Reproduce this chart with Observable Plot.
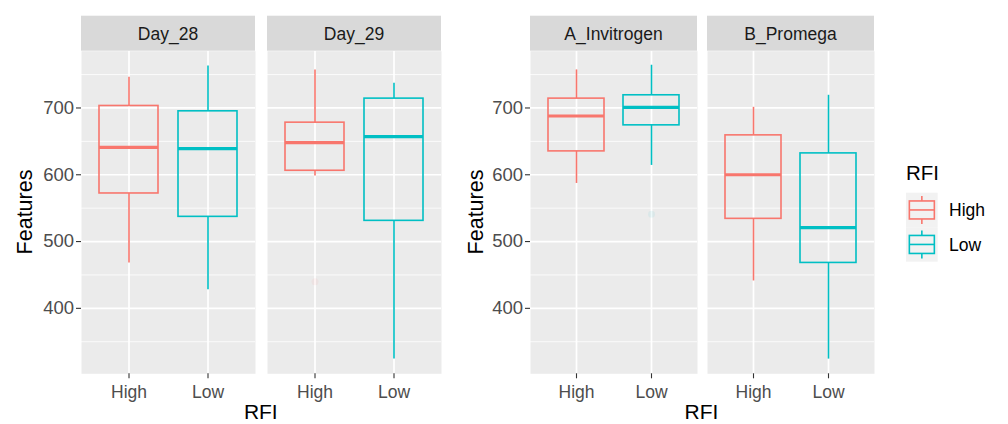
<!DOCTYPE html>
<html><head><meta charset="utf-8">
<script src="https://cdn.jsdelivr.net/npm/d3@7"></script>
<script src="https://cdn.jsdelivr.net/npm/@observablehq/plot@0.6"></script>
<style>
body{margin:0;background:#fff;}
#chart{position:relative;width:1008px;height:424px;overflow:hidden;font-family:"Liberation Sans",Arial,sans-serif;}
#chart svg{position:absolute;top:0;}
</style></head><body><div id="chart"></div>
<script>
// ---- data ----
const rfiLevels = ["High", "Low"];
const rfiColors = ["#F8766D", "#00BFC4"];
const yTicks = [400, 500, 600, 700];
const yMinorTicks = [350, 450, 550, 650, 750];

const dayFacets = ["Day_28", "Day_29"];
const dayGroup = ["Day_28", "Day_28", "Day_29", "Day_29"];
const dayRFI = ["High", "Low", "High", "Low"];
const dayLower = [468, 428, 598, 324];
const dayQ1 = [572, 537, 606, 531];
const dayMedian = [641, 639, 648, 657];
const dayQ3 = [703, 695, 678, 714];
const dayUpper = [746, 763, 757, 737];
const dayOutGroup = ["Day_29"];
const dayOutRFI = ["High"];
const dayOutValue = [440];

const kitFacets = ["A_Invitrogen", "B_Promega"];
const kitGroup = ["A_Invitrogen", "A_Invitrogen", "B_Promega", "B_Promega"];
const kitRFI = ["High", "Low", "High", "Low"];
const kitLower = [587, 614, 441, 324];
const kitQ1 = [635, 674, 534, 468];
const kitMedian = [688, 701, 600, 521];
const kitQ3 = [714, 719, 659, 632];
const kitUpper = [757, 764, 701, 719];
const kitOutGroup = ["A_Invitrogen"];
const kitOutRFI = ["Low"];
const kitOutValue = [541];

// ---- layout ----
const FONT = '"Liberation Sans", Arial, sans-serif';
const H = 424, MT = 50.7, MB = 50.7, STRIP_TOP = 15.7;
const yDomain = [302, 785];

const chart = document.getElementById("chart");

function panel({facets, group, rfi, lower, q1, median, q3, upper, outG, outR, outV, left, width, marginLeft, marginRight, fxPad}) {
  const rows = group.map((g, i) => ({group: g, rfi: rfi[i], lower: lower[i], q1: q1[i], median: median[i], q3: q3[i], upper: upper[i]}));
  const outs = outG.map((g, i) => ({group: g, rfi: outR[i], value: outV[i]}));
  const plot = Plot.plot({
    width, height: H, marginLeft, marginRight, marginTop: MT, marginBottom: MB,
    style: {fontFamily: FONT, fontSize: "18px", background: "transparent", overflow: "visible"},
    fx: {domain: facets, paddingInner: fxPad, paddingOuter: 0, axis: null, label: null},
    x: {type: "band", domain: rfiLevels, paddingInner: 0.25, paddingOuter: 0.225, label: null, axis: null},
    y: {domain: yDomain, label: null, axis: null},
    color: {domain: rfiLevels, range: rfiColors},
    marks: [
      Plot.frame({fill: "#EBEBEB", stroke: null}),
      Plot.gridY(yMinorTicks, {stroke: "white", strokeOpacity: 1, strokeWidth: 0.8}),
      Plot.gridY(yTicks, {stroke: "white", strokeOpacity: 1, strokeWidth: 1.7}),
      Plot.gridX(rfiLevels, {stroke: "white", strokeOpacity: 1, strokeWidth: 1.7}),
      Plot.ruleX(rows, {fx: "group", x: "rfi", y1: "lower", y2: "q1", stroke: "rfi", strokeWidth: 1.6}),
      Plot.ruleX(rows, {fx: "group", x: "rfi", y1: "q3", y2: "upper", stroke: "rfi", strokeWidth: 1.6}),
      Plot.barY(rows, {fx: "group", x: "rfi", y1: "q1", y2: "q3", stroke: "rfi", fill: "none", strokeWidth: 1.6}),
      Plot.tickY(rows, {fx: "group", x: "rfi", y: "median", stroke: "rfi", strokeWidth: 3.2}),
      Plot.dot(outs, {fx: "group", x: "rfi", y: "value", fill: "rfi", r: 3.5, fillOpacity: 0.07, stroke: null}),
      Plot.axisY(yTicks, {tickSize: 5, tickPadding: 2.5, stroke: "#333333", fill: "#4D4D4D", strokeWidth: 1.1, fontSize: 18.5, label: null}),
      Plot.axisX({tickSize: 5, tickPadding: 7, stroke: "#333333", fill: "#4D4D4D", strokeWidth: 1.1, fontSize: 17.5, label: null})
    ]
  });
  plot.style.left = left + "px";
  chart.appendChild(plot);
  // facet strips, placed with the library's fx scale
  const fx = plot.scale("fx");
  const sel = d3.select(plot);
  const g = sel.append("g");
  for (const f of facets) {
    const x0 = fx.apply(f);
    g.append("rect").attr("x", x0).attr("y", STRIP_TOP).attr("width", fx.bandwidth).attr("height", MT - STRIP_TOP).attr("fill", "#D9D9D9");
    g.append("text").attr("x", x0 + fx.bandwidth / 2).attr("y", 39.8).attr("text-anchor", "middle")
      .attr("font-family", FONT).attr("font-size", 17.5).attr("fill", "#1A1A1A").text(f);
  }
  return plot;
}

const leftPlot = panel({facets: dayFacets, group: dayGroup, rfi: dayRFI, lower: dayLower, q1: dayQ1, median: dayMedian, q3: dayQ3, upper: dayUpper,
  outG: dayOutGroup, outR: dayOutRFI, outV: dayOutValue, left: 0, width: 460, marginLeft: 80, marginRight: 18.3, fxPad: 0.0627});
const rightPlot = panel({facets: kitFacets, group: kitGroup, rfi: kitRFI, lower: kitLower, q1: kitQ1, median: kitMedian, q3: kitQ3, upper: kitUpper,
  outG: kitOutGroup, outR: kitOutRFI, outV: kitOutValue, left: 460, width: 420, marginLeft: 69, marginRight: 6, fxPad: 0.0585});

// ---- titles and legend ----
const color = leftPlot.scale("color");
const ov = d3.select(chart).append("svg").attr("width", 1008).attr("height", H).style("left", "0px").style("pointer-events", "none")
  .attr("font-family", FONT);
ov.append("text").attr("transform", "translate(31.5,212) rotate(-90)").attr("text-anchor", "middle").attr("font-size", 21.5).attr("fill", "#000").text("Features");
ov.append("text").attr("transform", "translate(482.5,212) rotate(-90)").attr("text-anchor", "middle").attr("font-size", 21.5).attr("fill", "#000").text("Features");
ov.append("text").attr("x", 260.8).attr("y", 419).attr("text-anchor", "middle").attr("font-size", 21).attr("fill", "#000").text("RFI");
ov.append("text").attr("x", 701.5).attr("y", 419).attr("text-anchor", "middle").attr("font-size", 21).attr("fill", "#000").text("RFI");

const lg = ov.append("g");
lg.append("text").attr("x", 906).attr("y", 180).attr("font-size", 20.5).attr("fill", "#000").text("RFI");
const keyTop = 192.7, keyH = 34.5, keyX = 906, keyW = 31.7;
rfiLevels.forEach((lvl, i) => {
  const y0 = keyTop + i * keyH, cy = y0 + keyH / 2, cx = keyX + keyW / 2, c = color.apply(lvl);
  lg.append("rect").attr("x", keyX).attr("y", y0).attr("width", keyW).attr("height", keyH).attr("fill", "#F2F2F2");
  lg.append("line").attr("x1", cx).attr("x2", cx).attr("y1", cy - 14).attr("y2", cy + 14).attr("stroke", c).attr("stroke-width", 1.6);
  lg.append("rect").attr("x", cx - 12.5).attr("y", cy - 9).attr("width", 25).attr("height", 18).attr("fill", "#F2F2F2").attr("stroke", c).attr("stroke-width", 1.6);
  lg.append("line").attr("x1", cx - 12.5).attr("x2", cx + 12.5).attr("y1", cy).attr("y2", cy).attr("stroke", c).attr("stroke-width", 1.6);
  lg.append("text").attr("x", 949).attr("y", cy + 6.5).attr("font-size", 17.5).attr("fill", "#000").text(lvl);
});
</script></body></html>
